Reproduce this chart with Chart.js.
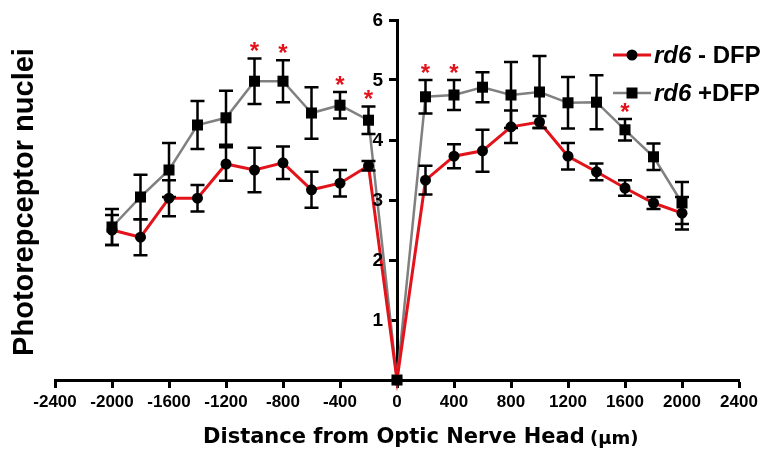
<!DOCTYPE html>
<html>
<head>
<meta charset="utf-8">
<script src="https://cdn.jsdelivr.net/npm/chart.js@4.4.1/dist/chart.umd.min.js"></script>
<style>
  html, body { margin: 0; padding: 0; background: #fff; }
  #wrap { width: 770px; height: 452px; }
</style>
</head>
<body>
<div id="wrap"><canvas id="chart" width="770" height="452"></canvas></div>
<script>
// data
const distances   = [-2000, -1800, -1600, -1400, -1200, -1000, -800, -600, -400, -200, 0, 200, 400, 600, 800, 1000, 1200, 1400, 1600, 1800, 2000];
const minusDfp    = [2.5, 2.38, 3.03, 3.03, 3.6, 3.5, 3.62, 3.17, 3.28, 3.57, 0, 3.33, 3.73, 3.82, 4.22, 4.3, 3.73, 3.47, 3.2, 2.95, 2.78];
const minusDfpErr = [0.25, 0.3, 0.3, 0.22, 0.28, 0.37, 0.27, 0.3, 0.22, 0.08, 0, 0.24, 0.2, 0.35, 0.27, 0.1, 0.22, 0.14, 0.13, 0.1, 0.27];
const plusDfp     = [2.55, 3.05, 3.5, 4.25, 4.37, 4.98, 4.98, 4.45, 4.58, 4.33, 0, 4.72, 4.75, 4.88, 4.75, 4.8, 4.62, 4.63, 4.17, 3.72, 2.95];
const plusDfpErr  = [0.3, 0.37, 0.45, 0.4, 0.45, 0.38, 0.35, 0.43, 0.22, 0.23, 0, 0.28, 0.25, 0.25, 0.55, 0.6, 0.43, 0.45, 0.18, 0.22, 0.35];
const starAt      = [-1000, -800, -400, -200, 200, 400, 1600];
const xTicks      = [-2400, -2000, -1600, -1200, -800, -400, 0, 400, 800, 1200, 1600, 2000, 2400];
const yTicks      = [1, 2, 3, 4, 5, 6];

const RED  = '#e3131b';
const GRAY = '#808080';
const SANS = "'Liberation Sans', Arial, sans-serif";

Chart.defaults.font.family = SANS;
Chart.defaults.color = '#000';

const toPoints = (ys) => distances.map((x, i) => ({ x: x, y: ys[i] }));

// error bars + significance stars
const errorBars = {
    id: 'errorBars',
    afterDatasetsDraw(chart) {
        const { ctx, scales: { x, y } } = chart;
        ctx.save();
        ctx.strokeStyle = '#000';
        ctx.lineWidth = 2.5;
        chart.data.datasets.forEach(ds => {
            ds.values.forEach((v, i) => {
                const e = ds.errors[i];
                if (!e) return;
                const px = x.getPixelForValue(distances[i]);
                const top = y.getPixelForValue(v + e);
                const bot = y.getPixelForValue(v - e);
                ctx.beginPath();
                ctx.moveTo(px, top); ctx.lineTo(px, bot);
                ctx.moveTo(px - 7, top); ctx.lineTo(px + 7, top);
                ctx.moveTo(px - 7, bot); ctx.lineTo(px + 7, bot);
                ctx.stroke();
            });
        });

        ctx.fillStyle = RED;
        ctx.font = 'bold 24px ' + SANS;
        ctx.textAlign = 'center';
        ctx.textBaseline = 'alphabetic';
        starAt.forEach(s => {
            const i = distances.indexOf(s);
            const px = x.getPixelForValue(s);
            const py = y.getPixelForValue(plusDfp[i] + plusDfpErr[i]);
            ctx.fillText('*', px, py + 1);
        });
        ctx.restore();
    }
};

// y tick labels, axis titles and legend drawn by hand
const extras = {
    id: 'extras',
    afterDraw(chart) {
        const { ctx, scales: { x, y } } = chart;
        ctx.save();
        ctx.fillStyle = '#000';

        // y tick labels, left of the centred axis
        const axisX = x.getPixelForValue(0);
        ctx.font = 'bold 19px ' + SANS;
        ctx.textAlign = 'right';
        ctx.textBaseline = 'middle';
        y.ticks.forEach(t => {
            ctx.fillText(String(t.value), axisX - 14, y.getPixelForValue(t.value) + 1);
        });

        // y title
        ctx.save();
        ctx.translate(25, 202);
        ctx.rotate(-Math.PI / 2);
        ctx.font = 'bold 29px ' + SANS;
        ctx.textAlign = 'center';
        ctx.textBaseline = 'middle';
        ctx.fillText('Photorepceptor nuclei', 0, 0);
        ctx.restore();

        // x title
        ctx.textBaseline = 'middle';
        ctx.textAlign = 'left';
        ctx.font = "bold 21px 'DejaVu Sans', Verdana, sans-serif";
        const main = 'Distance from Optic Nerve Head ';
        ctx.fillText(main, 203, 438);
        const w = ctx.measureText(main).width;
        ctx.font = "bold 18px 'DejaVu Sans', Verdana, sans-serif";
        ctx.fillText('(µm)', 203 + w - 2, 439);

        // legend
        const rows = [
            { y: 55, color: RED,  lw: 3,   marker: 'circle', rest: ' - DFP' },
            { y: 93, color: GRAY, lw: 2.5, marker: 'rect',   rest: ' +DFP' }
        ];
        rows.forEach(r => {
            ctx.strokeStyle = r.color;
            ctx.lineWidth = r.lw;
            ctx.beginPath();
            ctx.moveTo(613, r.y); ctx.lineTo(651, r.y);
            ctx.stroke();
            ctx.fillStyle = '#000';
            ctx.beginPath();
            if (r.marker === 'circle') ctx.arc(632, r.y, 5.5, 0, Math.PI * 2);
            else ctx.rect(626.5, r.y - 5.5, 11, 11);
            ctx.fill();

            ctx.textBaseline = 'middle';
            ctx.font = 'italic bold 24px ' + SANS;
            ctx.fillText('rd6', 654, r.y + 1);
            const w1 = ctx.measureText('rd6').width;
            ctx.font = 'bold 24px ' + SANS;
            ctx.fillText(r.rest, 654 + w1, r.y + 1);
        });
        ctx.restore();
    }
};

new Chart(document.getElementById('chart'), {
    type: 'line',
    data: {
        datasets: [
            {
                label: 'rd6 - DFP',
                data: toPoints(minusDfp),
                values: minusDfp,
                errors: minusDfpErr,
                borderColor: RED,
                borderWidth: 3,
                pointStyle: 'circle',
                pointRadius: 5.5,
                pointBackgroundColor: '#000',
                pointBorderWidth: 0,
                tension: 0,
                clip: false,
                order: 0
            },
            {
                label: 'rd6 +DFP',
                data: toPoints(plusDfp),
                values: plusDfp,
                errors: plusDfpErr,
                borderColor: GRAY,
                borderWidth: 2.5,
                pointStyle: 'rect',
                pointRadius: 7.8,
                pointBackgroundColor: '#000',
                pointBorderWidth: 0,
                tension: 0,
                clip: false,
                order: 1
            }
        ]
    },
    options: {
        responsive: false,
        animation: false,
        layout: { padding: { left: 55, right: 31, top: 20, bottom: 0 } },
        plugins: {
            legend: { display: false },
            tooltip: { enabled: false }
        },
        scales: {
            x: {
                type: 'linear',
                min: -2400,
                max: 2400,
                afterBuildTicks: s => { s.ticks = xTicks.map(v => ({ value: v })); },
                afterFit: s => { s.height = 72; },
                grid: { drawOnChartArea: false, tickLength: 8, tickColor: '#000', tickWidth: 3 },
                border: { color: '#000', width: 3 },
                ticks: {
                    font: { size: 17, weight: 'bold' },
                    padding: 4,
                    maxRotation: 0,
                    callback: v => String(v)
                }
            },
            y: {
                type: 'linear',
                min: 0,
                max: 6,
                position: { x: 0 },
                afterBuildTicks: s => { s.ticks = yTicks.map(v => ({ value: v })); },
                grid: { drawOnChartArea: false, tickLength: 7, tickColor: '#000', tickWidth: 3 },
                border: { color: '#000', width: 3 },
                ticks: { display: false }
            }
        }
    },
    plugins: [errorBars, extras]
});
</script>
</body>
</html>
